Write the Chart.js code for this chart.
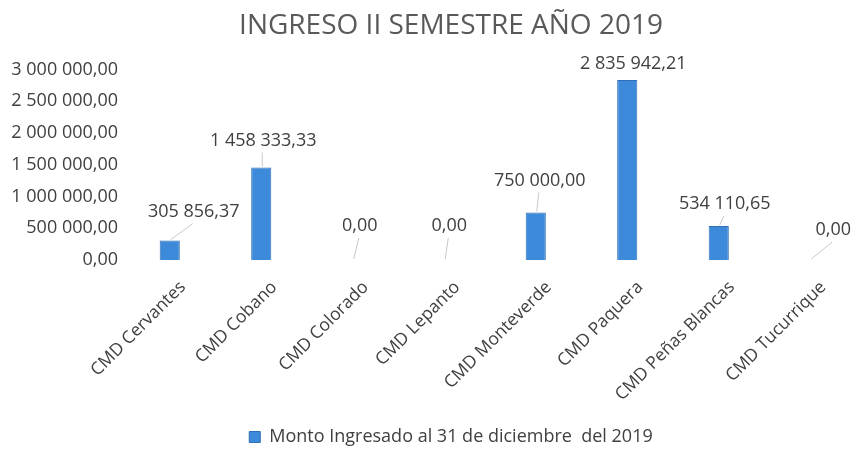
<!DOCTYPE html>
<html>
<head>
<meta charset="utf-8">
<script src="https://cdn.jsdelivr.net/npm/chart.js@4.4.1/dist/chart.umd.min.js"></script>
<style>
html,body{margin:0;padding:0;background:#fff;}
#wrap{width:856px;height:450px;}
</style>
</head>
<body>
<div id="wrap"><canvas id="c" width="856" height="450"></canvas></div>
<script>
const categories = ["CMD Cervantes","CMD Cobano","CMD Colorado","CMD Lepanto","CMD Monteverde","CMD Paquera","CMD Peñas Blancas","CMD Tucurrique"];
const montoIngresado = [305856.37, 1458333.33, 0, 0, 750000, 2835942.21, 534110.65, 0];
const seriesName = "Monto Ingresado al 31 de diciembre  del 2019";
const chartTitle = "INGRESO II SEMESTRE AÑO 2019";
const yTickMax = 3000000;
const yTickStep = 500000;

function fmt(v){
  const fixed = Math.abs(v).toFixed(2);
  let [ip, dp] = fixed.split('.');
  ip = ip.replace(/\B(?=(\d{3})+(?!\d))/g, ' ');
  return (v < 0 ? '-' : '') + ip + ',' + dp;
}

const FONT = "'Open Sans', Lato, sans-serif";
const PAD_B = -6;
const BLOCK_SHIFT = 46;

const labelPlugin = {
  id: 'leaderLabels',
  afterLayout(chart) {
    if (chart.titleBlock) chart.titleBlock.left = BLOCK_SHIFT;
    if (chart.legend) chart.legend.left = BLOCK_SHIFT;
  },
  afterDatasetsDraw(chart, args, opts) {
    const ctx = chart.ctx;
    const meta = chart.getDatasetMeta(0);
    const ds = chart.data.datasets[0];
    ctx.save();
    ctx.font = "18px " + FONT;
    ctx.textAlign = 'center';
    ctx.textBaseline = 'middle';
    meta.data.forEach((bar, i) => {
      const off = opts.offsets[i] || [0, -28];
      const lx = bar.x + off[0];
      const ly = bar.y + off[1];
      if (opts.lines[i]) {
        ctx.strokeStyle = '#c8c8c8';
        ctx.lineWidth = 1;
        ctx.beginPath();
        ctx.moveTo(bar.x + 1, bar.y - 1);
        ctx.lineTo(lx - 1, ly + 12);
        ctx.stroke();
      }
      ctx.fillStyle = '#404040';
      ctx.fillText(fmt(ds.data[i]), lx, ly);
    });
    ctx.restore();
  }
};

new Chart(document.getElementById('c'), {
  type: 'bar',
  data: {
    labels: categories,
    datasets: [{
      label: seriesName,
      data: montoIngresado,
      backgroundColor: '#3c8ad9',
      borderColor: '#2e6fb5',
      borderWidth: 1,
      barPercentage: 0.22,
      categoryPercentage: 1
    }]
  },
  options: {
    responsive: false,
    animation: false,
    layout: { padding: { left: 0, right: 0, top: 0, bottom: PAD_B } },
    plugins: {
      title: {
        display: true,
        text: chartTitle,
        color: '#595959',
        font: { family: FONT, size: 28, weight: 'normal' },
        padding: { top: 9, bottom: 27 }
      },
      legend: {
        display: true,
        position: 'bottom',
        labels: {
          color: '#404040',
          font: { family: FONT, size: 18 },
          boxWidth: 11,
          boxHeight: 11,
          padding: 0
        }
      },
      tooltip: { enabled: false },
      leaderLabels: {
        offsets: [[24,-29],[2,-27],[7,-34],[5,-34],[4,-32],[6,-16],[6,-22],[23,-30]],
        lines: [true,true,true,true,true,false,true,true]
      }
    },
    scales: {
      x: {
        grid: { display: false, drawTicks: false },
        border: { display: false },
        ticks: {
          color: '#404040',
          font: { family: FONT, size: 17.5 },
          maxRotation: 45,
          minRotation: 45,
          padding: 17,
          labelOffset: 13,
          autoSkip: false
        },
        afterFit(scale) {
          const lg = scale.chart.legend ? scale.chart.legend.height : 30;
          scale.height = 450 - 260 - lg - PAD_B;
        }
      },
      y: {
        min: 0,
        max: yTickMax,
        grid: { display: false, drawTicks: false },
        border: { display: false },
        ticks: {
          stepSize: yTickStep,
          color: '#404040',
          font: { family: FONT, size: 18 },
          padding: 6,
          callback: (v) => fmt(v)
        },
        afterFit(scale) { scale.width = 124; }
      }
    }
  },
  plugins: [labelPlugin]
});
</script>
</body>
</html>
